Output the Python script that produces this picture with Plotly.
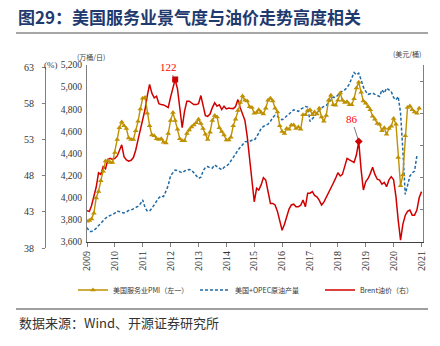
import pandas as pd
import plotly.graph_objects as go

# ---------------- data ----------------
years = [str(y) for y in range(2009, 2022)]

# US services PMI (3-month smoothed), monthly Jan-2009 .. Dec-2020
pmi = [41.7, 41.8, 42.0, 42.8, 44.9, 45.8, 47.3, 48.6, 50.0, 50.1, 49.8, 49.8,
       51.2, 53.0, 54.6, 55.4, 54.9, 54.5, 53.2, 53.0, 53.0, 54.2, 55.5, 57.2,
       58.7, 58.8, 56.6, 54.9, 53.6, 53.5, 53.1, 53.0, 53.1, 52.6, 52.5, 53.8,
       55.6, 56.7, 55.6, 54.4, 53.1, 52.8, 52.8, 53.8, 54.3, 54.7, 55.0, 55.3,
       55.8, 55.2, 54.5, 53.7, 53.0, 54.0, 55.6, 56.3, 56.1, 54.6, 54.1, 53.6,
       52.9, 52.9, 53.3, 54.9, 55.8, 57.0, 58.1, 59.0, 58.4, 58.3, 57.5, 57.4,
       56.6, 56.7, 57.1, 56.7, 56.5, 57.3, 58.4, 58.7, 58.3, 57.3, 56.8, 54.9,
       54.1, 53.8, 54.5, 54.4, 55.0, 55.0, 54.5, 54.7, 54.4, 56.4, 56.4, 57.0,
       57.1, 56.4, 56.8, 56.5, 57.3, 56.1, 55.5, 56.3, 58.4, 59.1, 57.8, 57.7,
       58.4, 59.4, 58.4, 58.1, 58.2, 57.8, 57.8, 58.6, 60.1, 60.9, 59.5, 58.3,
       58.0, 57.5, 57.1, 56.2, 55.8, 55.2, 55.1, 54.2, 54.6, 53.7, 54.5, 54.8,
       55.9, 55.1, 50.5, 46.6, 48.1, 53.5, 57.4, 57.6, 57.1, 56.8, 56.6, 57.3]

# US + OPEC crude output (10k bbl/day), monthly Jan-2009 .. Nov-2020
production = [3730, 3695, 3695, 3705, 3725, 3750, 3775, 3795, 3815, 3830, 3840, 3845,
              3860, 3880, 3875, 3868, 3862, 3872, 3885, 3890, 3898, 3910, 3925, 3945,
              3980, 3910, 3880, 3880, 3905, 3935, 3970, 4000, 4016, 4010, 4060, 4110,
              4200, 4230, 4250, 4245, 4236, 4225, 4240, 4252, 4255, 4250, 4225, 4195,
              4175, 4185, 4240, 4275, 4282, 4270, 4268, 4297, 4280, 4262, 4252, 4275,
              4285, 4305, 4330, 4360, 4395, 4430, 4455, 4475, 4505, 4508, 4510, 4520,
              4520, 4550, 4590, 4625, 4645, 4655, 4665, 4690, 4725, 4745, 4735, 4715,
              4705, 4720, 4740, 4760, 4775, 4795, 4790, 4780, 4800, 4815, 4825, 4820,
              4690, 4715, 4740, 4765, 4790, 4812, 4825, 4835, 4860, 4885, 4910, 4905,
              4930, 4950, 4965, 4976, 4995, 5030, 5080, 5132, 5111, 5126, 5066, 5000,
              4961, 4935, 4940, 4946, 4935, 4925, 4915, 4976, 4946, 4991, 4975, 4960,
              4905, 4885, 4915, 4765, 4430, 4030, 4110, 4195, 4225, 4240, 4380]

# Brent (USD/bbl), monthly Jan-2009 .. Jan-2021
brent = [39.5, 39.0, 42.5, 48.0, 54.0, 63.0, 62.0, 66.9, 65.5, 71.2, 72.0, 71.3,
         72.0, 73.5, 76.3, 80.4, 73.0, 71.0, 70.2, 70.8, 72.5, 77.0, 83.6, 89.5,
         96.1, 102.5, 110.6, 117.9, 112.5, 109.6, 110.6, 106.0, 105.4, 105.2, 104.4, 103.5,
         110.0, 115.8, 121.0, 115.0, 102.0, 91.0, 101.0, 107.5, 107.5, 106.5, 105.4, 105.4,
         106.0, 111.0, 104.4, 98.5, 98.1, 99.5, 103.5, 106.5, 104.4, 105.3, 102.3, 104.4,
         102.7, 103.2, 103.0, 102.9, 104.2, 108.5, 103.5, 99.5, 95.5, 85.6, 71.0, 57.0,
         45.0, 53.4, 52.3, 55.5, 60.0, 58.5, 52.0, 44.0, 44.0, 43.0, 39.0, 33.0,
         27.3, 31.0, 36.0, 40.5, 43.0, 43.5, 41.9, 41.9, 42.8, 46.1, 41.9, 50.3,
         50.3, 51.3, 49.0, 48.1, 46.0, 43.0, 44.8, 47.5, 50.5, 53.5, 56.5, 59.5,
         63.0, 61.0, 62.0, 67.0, 72.0, 71.0, 70.0, 69.5, 74.2, 82.5, 65.0, 52.3,
         57.5, 59.5, 62.5, 66.5, 62.0, 59.0, 58.5, 56.0, 57.0, 54.4, 58.6, 60.6,
         58.6, 48.0, 33.6, 21.1, 31.0, 36.5, 39.0, 39.8, 36.7, 36.7, 39.8, 47.5,
         51.3]

peak_labels = ["122", "86"]
peak_index = [38, 117]          # Mar-2012, Oct-2018 in the Brent series

months_pmi = pd.date_range("2009-01-01", periods=len(pmi), freq="MS")
months_prod = pd.date_range("2009-01-01", periods=len(production), freq="MS")
months_brent = pd.date_range("2009-01-01", periods=len(brent), freq="MS")
year_dates = [f"{y}-01-01" for y in years]

# ---------------- layout geometry ----------------
W, H = 440, 346
ML, MR, MT, MB = 45, 17, 65, 98
PW, PH = W - ML - MR, H - MT - MB


def px(xp):
    return (xp - ML) / PW


def py(yp):
    return (H - MB - yp) / PH


GOLD = "#BF9000"
BLUE = "#1F6AA5"
RED = "#D00000"
AX = "#7F7F7F"
SERIF = "Liberation Serif"
CJK = "Noto Sans CJK SC"

fig = go.Figure()

fig.add_trace(go.Scatter(
    x=months_prod, y=production, name="美国+OPEC原油产量", mode="lines",
    line=dict(color=BLUE, width=1.5, dash="3px,2px"),
    xaxis="x", yaxis="y", legend="legend2"))

fig.add_trace(go.Scatter(
    x=months_brent, y=brent, name="Brent油价（右）", mode="lines",
    line=dict(color=RED, width=1.5),
    xaxis="x", yaxis="y2", legend="legend3"))

fig.add_trace(go.Scatter(
    x=[months_brent[i] for i in peak_index], y=[brent[i] for i in peak_index],
    mode="markers", showlegend=False,
    marker=dict(symbol=["square", "diamond"], size=6, color=RED),
    xaxis="x", yaxis="y2"))

fig.add_trace(go.Scatter(
    x=months_pmi, y=pmi, name="美国服务业PMI（左一）", mode="lines+markers",
    line=dict(color=GOLD, width=1.4),
    marker=dict(symbol="triangle-up", size=5, color=GOLD),
    xaxis="x", yaxis="y3", legend="legend"))

annotations = []
for lab, i, (ax, ay) in zip(peak_labels, peak_index, [(-7, -12), (-7, -22)]):
    annotations.append(dict(
        x=months_brent[i], y=brent[i], xref="x", yref="y2", text=lab,
        showarrow=True, arrowhead=0, arrowwidth=0.8, arrowcolor="#595959",
        ax=ax, ay=ay, standoff=2,
        font=dict(family=SERIF, size=11, color="#FF0000")))

annotations += [
    dict(x=px(51), y=py(65), xref="paper", yref="paper", text="(%)",
         xanchor="center", yanchor="middle",
         showarrow=False, font=dict(family=SERIF, size=9, color="#404040")),
    dict(x=px(91), y=py(57), xref="paper", yref="paper", text="(万桶/日)",
         xanchor="center", yanchor="middle",
         showarrow=False, font=dict(family=CJK, size=7, color="#404040")),
    dict(x=px(407), y=py(54), xref="paper", yref="paper", text="(美元/桶)",
         xanchor="center", yanchor="middle",
         showarrow=False, font=dict(family=CJK, size=7, color="#404040")),
    dict(x=px(17), y=py(322), xref="paper", yref="paper", xanchor="left",
         yanchor="middle",
         text="数据来源：Wind、开源证券研究所", showarrow=False,
         font=dict(family=CJK, size=13, color="#333333")),
]

shapes = [
    dict(type="line", xref="paper", yref="paper", x0=px(16), x1=px(428),
         y0=py(33), y1=py(33), line=dict(color="#A6A6A6", width=2)),
    dict(type="line", xref="paper", yref="paper", x0=px(16), x1=px(428),
         y0=py(309), y1=py(309), line=dict(color="#404040", width=1)),
]

leg_common = dict(orientation="h", yanchor="middle", xanchor="left",
                  y=py(290), bgcolor="rgba(0,0,0,0)", itemwidth=30,
                  font=dict(family=CJK, size=7, color="#333333"))

fig.update_layout(
    width=W, height=H, autosize=False,
    margin=dict(l=ML, r=MR, t=MT, b=MB, pad=0),
    paper_bgcolor="white", plot_bgcolor="rgba(0,0,0,0)",
    title=dict(text="<b>图29：美国服务业景气度与油价走势高度相关</b>",
               x=18 / W, xanchor="left", xref="container",
               y=1 - 18 / H, yanchor="middle", yref="container",
               font=dict(family=CJK, size=17, color="#1F3A6E")),
    xaxis=dict(domain=[px(87), 1], anchor="y", type="date",
               range=["2009-01-01", "2021-01-20"],
               tickvals=year_dates, ticktext=years, tickangle=-90,
               ticks="outside", ticklen=4, tickcolor=AX,
               showline=True, linecolor="#404040", linewidth=1,
               showgrid=False, zeroline=False,
               tickfont=dict(family=SERIF, size=10, color="#333333")),
    yaxis=dict(domain=[py(242), 1], anchor="x", side="left",
               range=[3600, 5200], dtick=200, tickformat=",",
               showline=True, linecolor=AX, ticks="", showgrid=False,
               zeroline=False, ticklabelstandoff=2,
               tickfont=dict(family=SERIF, size=9.5, color="#333333")),
    yaxis2=dict(overlaying="y", side="right", anchor="x",
                range=[20, 130], tickvals=[20, 40, 60, 80, 100, 120],
                showticklabels=False, ticks="inside", ticklen=3, tickcolor=AX,
                showline=True, linecolor=AX, showgrid=False, zeroline=False),
    yaxis3=dict(domain=[0, py(67)], anchor="free", position=0, side="left",
                range=[38, 63], tick0=38, dtick=5, ticks="outside", ticklen=3,
                tickcolor=AX, showline=True, linecolor=AX, showgrid=False,
                zeroline=False, ticklabelstandoff=6,
                tickfont=dict(family=SERIF, size=10, color="#333333")),
    legend=dict(x=px(73), **leg_common),
    legend2=dict(x=px(195), **leg_common),
    legend3=dict(x=px(320), **leg_common),
    annotations=annotations, shapes=shapes,
)

fig.write_html("out.html")
